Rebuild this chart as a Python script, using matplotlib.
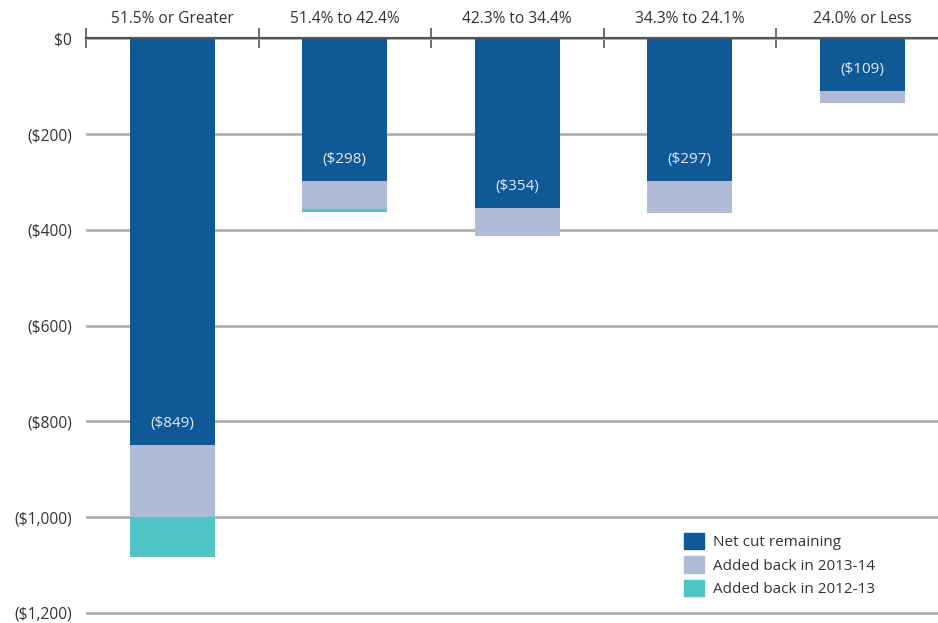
import numpy as np
import matplotlib.pyplot as plt
from matplotlib.patches import Patch

plt.rcParams['font.family'] = ['Open Sans', 'DejaVu Sans']

# data, in dollars (cuts shown as negatives)
categories = ['51.5% or Greater', '51.4% to 42.4%', '42.3% to 34.4%',
              '34.3% to 24.1%', '24.0% or Less']
net_cut = [-849, -298, -354, -297, -109]
added_1314 = [-150, -59, -59, -68, -27]
added_1213 = [-84, -5, 0, 0, 0]

c_net = '#0f5997'
c_1314 = '#b0bbd8'
c_1213 = '#4fc4c4'

fig = plt.figure(figsize=(9.38, 6.23), dpi=100)
ax = fig.add_axes([0.0917, 0.0, 0.9195, 0.9385])

x = np.arange(len(categories))
w = 0.49
net = np.array(net_cut)
a14 = np.array(added_1314)
a13 = np.array(added_1213)

ax.bar(x, net, w, color=c_net, zorder=3)
ax.bar(x, a14, w, bottom=net, color=c_1314, zorder=3)
ax.bar(x, a13, w, bottom=net + a14, color=c_1213, zorder=3)

for xi, v in zip(x, net):
    ax.text(xi, v + 44, f'(${-v:,})', ha='center', va='center',
            color='#e4e8f2', fontsize=11, zorder=4)

ax.set_xlim(-0.5, len(categories) - 0.5)
ax.set_ylim(-1221, 0)

yt = np.arange(-1200, 1, 200)
ax.set_yticks(yt)
ax.set_yticklabels(['$0' if v == 0 else f'(${-v:,})' for v in yt],
                   fontsize=11.2, color='#333333')
ax.tick_params(axis='y', length=0, pad=10)
ax.yaxis.grid(True, color='#b0b0b0', linewidth=2)
ax.set_axisbelow(True)

ax.xaxis.tick_top()
ax.set_xticks(x)
ax.set_xticklabels(categories, fontsize=11.2, color='#333333')
ax.set_xticks(np.arange(-0.5, len(categories), 1), minor=True)
ax.tick_params(axis='x', which='major', length=0, pad=8)
ax.tick_params(axis='x', which='minor', direction='inout', length=14,
               width=1.2, color='#555555')

for s in ['left', 'right', 'bottom']:
    ax.spines[s].set_visible(False)
ax.spines['top'].set_color('#555555')
ax.spines['top'].set_linewidth(1.6)
ax.spines['top'].set_zorder(5)

handles = [Patch(color=c_net, label='Net cut remaining'),
           Patch(color=c_1314, label='Added back in 2013-14'),
           Patch(color=c_1213, label='Added back in 2012-13')]
ax.legend(handles=handles, loc='upper left', bbox_to_anchor=(0.677, 0.178),
          frameon=False, fontsize=11, handlelength=1.3, handleheight=1.3,
          handletextpad=0.6, labelspacing=0.4, labelcolor='#333333')

fig.savefig('out.png', dpi=100)
